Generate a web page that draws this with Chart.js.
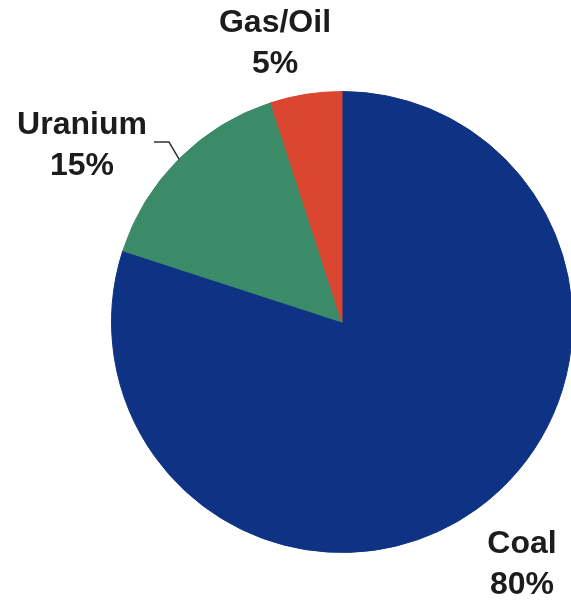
<!DOCTYPE html>
<html>
<head>
<meta charset="utf-8">
<script src="https://cdn.jsdelivr.net/npm/chart.js@4.4.1/dist/chart.umd.min.js"></script>
<style>
  html, body { margin: 0; padding: 0; background: #fff; }
  #clip { width: 571px; height: 602px; overflow: hidden; position: relative; }
  #wrap { width: 684px; height: 602px; position: absolute; left: 0; top: 0; }
</style>
</head>
<body>
<div id="clip"><div id="wrap"><canvas id="pie"></canvas></div></div>
<script>
// data
const fuels = ['Coal', 'Uranium', 'Gas/Oil'];
const shares = [80, 15, 5];
const fuelColors = ['#0f3384', '#3b8a68', '#da4630'];

// where each label sits, relative to the pie centre
const labelOffsets = [[180, 222], [-260, -197], [-67, -299]];
const LINE_GAP = 41;

const fuelLabels = {
  id: 'fuelLabels',
  afterDraw(chart) {
    const ctx = chart.ctx;
    const arcs = chart.getDatasetMeta(0).data;
    const cx = arcs[0].x, cy = arcs[0].y;
    ctx.save();
    ctx.fillStyle = '#1c1c1c';
    ctx.font = 'bold 32px "Liberation Sans", Arial, sans-serif';
    ctx.textAlign = 'center';
    ctx.textBaseline = 'middle';
    fuels.forEach((name, i) => {
      const [dx, dy] = labelOffsets[i];
      ctx.fillText(name, cx + dx, cy + dy);
      ctx.fillText(shares[i] + '%', cx + dx, cy + dy + LINE_GAP);
    });
    // leader line for Uranium
    const u = arcs[1];
    const mid = (u.startAngle + u.endAngle) / 2;
    const ex = cx + u.outerRadius * Math.cos(mid);
    const ey = cy + u.outerRadius * Math.sin(mid);
    ctx.strokeStyle = '#333';
    ctx.lineWidth = 1.5;
    ctx.beginPath();
    ctx.moveTo(ex, ey);
    ctx.lineTo(ex - 10, ey - 17);
    ctx.lineTo(ex - 25, ey - 17);
    ctx.stroke();
    ctx.restore();
  }
};

new Chart(document.getElementById('pie'), {
  type: 'pie',
  data: {
    labels: fuels,
    datasets: [{
      data: shares,
      backgroundColor: fuelColors,
      borderColor: fuelColors,
      borderWidth: 1
    }]
  },
  options: {
    responsive: true,
    maintainAspectRatio: false,
    animation: false,
    layout: { padding: { top: 91, bottom: 49, left: 0, right: 0 } },
    plugins: {
      legend: { display: false },
      tooltip: { enabled: false }
    }
  },
  plugins: [fuelLabels]
});
</script>
</body>
</html>
